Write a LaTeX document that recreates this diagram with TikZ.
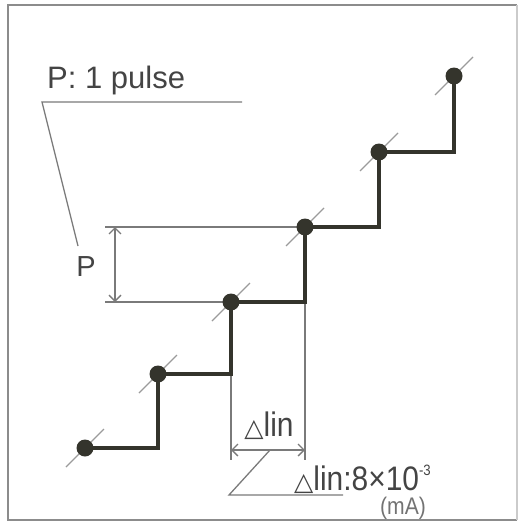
\documentclass[tikz,border=0pt]{standalone}
\usepackage{fontspec}
\setmainfont{Liberation Sans}
\newfontfamily\narrowfont[FakeStretch=0.88]{Liberation Sans}
\newfontfamily\symfont{DejaVu Sans}
\usetikzlibrary{arrows.meta}
\definecolor{stepc}{HTML}{34342C}
\definecolor{thinc}{HTML}{7A7A7A}
\definecolor{textc}{HTML}{444444}
\definecolor{framec}{HTML}{8C8C8C}
\tikzset{
  dotn/.style={circle, fill=stepc, inner sep=0pt, minimum size=17pt},
  stepline/.style={draw=stepc, line width=3.2pt},
  thinline/.style={draw=thinc, line width=1.3pt},
  slashline/.style={draw=thinc!75, line width=1.3pt},
  dimarrow/.style={thinline, {Straight Barb[length=6pt,width=12pt]}-{Straight Barb[length=6pt,width=12pt]}},
  lbl/.style={text=textc, inner sep=0pt},
}
\begin{document}
\begin{tikzpicture}[x=1pt,y=-1pt]
\useasboundingbox (0,0) rectangle (519,522);
% frame
\draw[draw=framec, line width=1.6pt] (517,520) -- (8,520) -- (8,5) -- (517,5);
\draw[draw=framec!45, line width=1.2pt] (517,5) -- (517,520);
% dot positions
\coordinate (p1) at (85,448);
\coordinate (p2) at (158,374);
\coordinate (p3) at (231,302);
\coordinate (p4) at (305,227);
\coordinate (p5) at (379,152);
\coordinate (p6) at (454,76);
% slashes
\foreach \i in {1,...,6}{
  \draw[slashline] ([shift={(-19,19)}]p\i) -- ([shift={(19,-19)}]p\i);
}
% reference lines
\coordinate (pl1) at (105,227);
\coordinate (pl2) at (105,302);
\draw[thinline] (pl1) -- (p4);
\draw[thinline] (pl2) -- (p3);
\coordinate (v1) at (231,460);
\coordinate (v2) at (305,460);
\draw[thinline] (p3) -- (v1);
\draw[thinline] (p4) -- (v2);
% staircase
\draw[stepline] (p1) -| (p2) -| (p3) -| (p4) -| (p5) -| (p6);
% dots
\foreach \i in {1,...,6}{
  \node[dotn] (d\i) at (p\i) {};
}
% P dimension
\coordinate (pa) at (115,227);
\coordinate (pb) at (115,302);
\draw[dimarrow] (pa) -- (pb);
\node[lbl, font=\fontsize{29}{29}\selectfont] (plab) at (86,267) {P};
% P: 1 pulse
\node[lbl, anchor=base west, font=\fontsize{31}{31}\selectfont] (ptxt) at (47,88) {P: 1 pulse};
\coordinate (u1) at (242,102);
\coordinate (u2) at (42,102);
\coordinate (u3) at (78,246);
\draw[thinline] (u1) -- (u2) -- (u3);
% delta lin dimension
\coordinate (la) at (231,450);
\coordinate (lb) at (305,450);
\draw[dimarrow] (la) -- (lb);
\node[lbl, anchor=base, font=\narrowfont\fontsize{34}{34}\selectfont] (llab) at (269,436) {{\symfont\fontsize{25}{25}\selectfont △}lin};
\coordinate (q1) at (270,450);
\coordinate (q2) at (229,495);
\coordinate (q3) at (343,495);
\draw[thinline] (q1) -- (q2) -- (q3);
\node[lbl, anchor=base west, font=\narrowfont\fontsize{34}{34}\selectfont] (vtxt) at (294,490) {{\symfont\fontsize{25}{25}\selectfont △}lin:8×10\raisebox{15pt}{\fontsize{15}{15}\selectfont -3}};
\node[lbl, text=textc!75, font=\narrowfont\fontsize{24}{24}\selectfont] (unit) at (403,508) {(mA)};
\end{tikzpicture}
\end{document}
